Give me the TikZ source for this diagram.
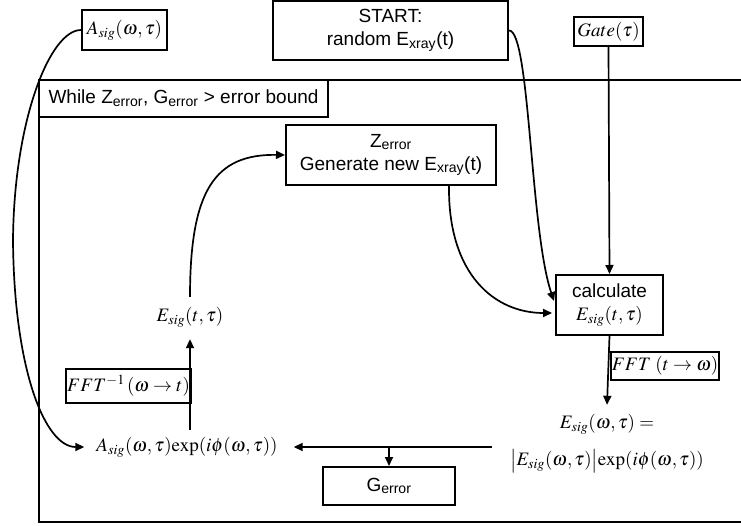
\documentclass[tikz,border=0pt]{standalone}
\usepackage{mathptmx}
\usepackage{fontspec}
\setmainfont{Liberation Sans}
\usetikzlibrary{arrows.meta,calc}
\newcommand\txtf{\fontsize{19}{23}\selectfont}
\newcommand\mthf{\fontsize{19}{23}\selectfont}
\newcommand\myexp{\mathrm{exp}}
\begin{document}
\begin{tikzpicture}[x=1pt,y=-1pt,
  box/.style={draw, line width=2pt, inner sep=0pt, align=center, font=\txtf},
  mbox/.style={draw, line width=2pt, inner sep=0pt, align=center, font=\mthf},
  lbl/.style={inner sep=0pt, align=center, font=\mthf},
  arr/.style={-{Triangle[length=9pt,width=8pt]}, line width=1.7pt}]
\useasboundingbox (0,0) rectangle (741,526);
% loop frame
\draw[line width=2pt] (741,80) -- (39,80) -- (39,522) -- (741,522);
\node[box, minimum width=289pt, minimum height=37pt] (while) at (183.5,98.5)
  {While Z\textsubscript{error}, G\textsubscript{error} > error bound};
% top nodes
\node[mbox, minimum width=85pt, minimum height=40pt] (asig) at (124.5,30) {$A_{sig}(\omega,\tau)$};
\node[box, minimum width=235pt, minimum height=59pt] (start) at (390.5,30.5)
  {START:\\random E\textsubscript{xray}(t)};
\node[mbox, minimum width=69pt, minimum height=29pt] (gate) at (608.5,31.5) {$Gate(\tau)$};
% inner nodes
\node[box, minimum width=210pt, minimum height=60pt] (zerr) at (391,155)
  {Z\textsubscript{error}\\Generate new E\textsubscript{xray}(t)};
\node[box, minimum width=107pt, minimum height=60pt] (calc) at (609.5,305)
  {calculate\\{\mthf$E_{sig}(t,\tau)$}};
\node[lbl] (esigt) at (190,317) {$E_{sig}(t,\tau)$};
\node[lbl] (aexp) at (187,447) {$A_{sig}(\omega,\tau)\myexp(i\phi(\omega,\tau))$};
\node[lbl] (esigw) at (607,424) {$E_{sig}(\omega,\tau) =$};
\node[lbl] (esigwb) at (607,461) {${\left|E_{sig}(\omega,\tau)\right|}\myexp(i\phi(\omega,\tau))$};
\node[box, minimum width=132pt, minimum height=38pt] (gerr) at (389,486) {G\textsubscript{error}};
% connectors
\draw[arr] (gate.south) -- (calc.north);
\draw[arr] (start.east) .. controls (530,30) and (530,230) .. ($(calc.west)+(-1,-4)$);
\draw[arr] ($(zerr.south east)+(-48,0)$) .. controls (448,275) and (495,313) .. ($(calc.west)+(-3,8)$);
\draw[arr] ($(esigt.north)+(0,-10)$) .. controls (190,190) and (215,154) .. (zerr.west);
\coordinate (aup) at (aexp.north -| esigt.south);
\draw[arr] ($(aup)+(0,-7)$) -- ($(esigt.south)+(0,12)$);
\node[mbox, anchor=east, minimum width=125pt, minimum height=34pt] (fftinv) at (192,386) {$FFT^{-1}\,(\omega\rightarrow t)$};
\draw[arr] (calc.south) -- ($(esigw.north)+(0,-9)$);
\node[mbox, anchor=west, minimum width=108pt, minimum height=28pt] (fft) at (610,366) {$FFT\;(t\rightarrow\omega)$};
\coordinate (lstart) at (492,447);
\draw[arr] (lstart) -- ($(aexp.east)+(16,0)$);
\draw[arr] (gerr.north |- lstart) -- (gerr.north);
\draw[arr] (asig.west) .. controls (50,30) and (14,120) .. (13,240)
  .. controls (14,370) and (45,447) .. ($(aexp.west)+(-12,0)$);
\end{tikzpicture}
\end{document}
